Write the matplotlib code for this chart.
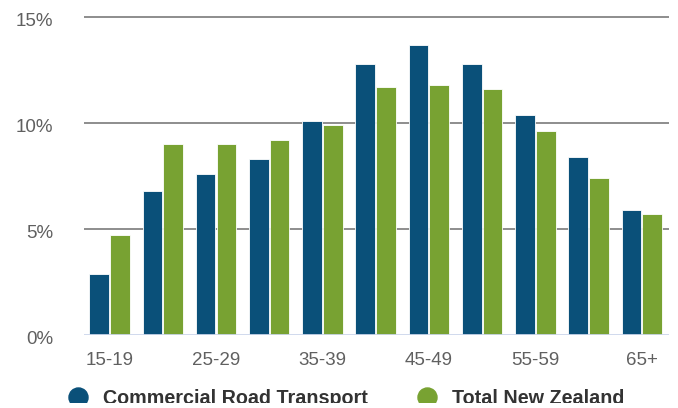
import matplotlib
matplotlib.use("Agg")
import matplotlib.pyplot as plt
from matplotlib.lines import Line2D
from matplotlib.patches import Rectangle
from matplotlib.transforms import ScaledTranslation
import numpy as np

categories = ["15-19", "20-24", "25-29", "30-34", "35-39", "40-44",
              "45-49", "50-54", "55-59", "60-64", "65+"]
commercial = [2.9, 6.8, 7.6, 8.3, 10.1, 12.8, 13.7, 12.8, 10.4, 8.4, 5.9]
total_nz = [4.7, 9.0, 9.0, 9.2, 9.9, 11.7, 11.8, 11.6, 9.6, 7.4, 5.7]
yticks = [0, 5, 10, 15]
ytick_labels = ["0%", "5%", "10%", "15%"]
series_names = ["Commercial Road Transport", "Total New Zealand"]

BLUE = "#0a5079"
GREEN = "#78a232"

plt.rcParams['font.family'] = ['Liberation Sans', 'DejaVu Sans']

W, H = 678, 408
fig = plt.figure(figsize=(W / 100, H / 100), dpi=100)
left, right = 84, 669
y0 = 335
ppu = 21.2
ymax = 15.5
top = y0 - ymax * ppu
ax = fig.add_axes([left / W, (H - y0) / H, (right - left) / W, (y0 - top) / H])

x = np.arange(len(categories))
bw = 0.37
ax.bar(x - bw / 2 - 0.01, commercial, width=bw, color=BLUE, edgecolor="white",
       linewidth=0.6, zorder=3)
ax.bar(x + bw / 2 + 0.01, total_nz, width=bw, color=GREEN, edgecolor="white",
       linewidth=0.6, zorder=3)

ax.set_xlim(-0.48, 10.51)
ax.set_ylim(0, ymax)
ax.set_yticks(yticks)
ax.set_yticklabels(ytick_labels)
ax.set_xticks(x[::2])
ax.set_xticklabels(categories[::2])
ax.tick_params(axis='both', length=0, labelsize=13.5, labelcolor="#606060")
ax.tick_params(axis='x', pad=12)
ax.tick_params(axis='y', pad=22)
for lbl in ax.get_yticklabels():
    lbl.set_verticalalignment('center')
    lbl.set_transform(lbl.get_transform() +
                      ScaledTranslation(0, -4.5 / 100, fig.dpi_scale_trans))

for v in yticks[1:]:
    ax.axhline(v, color="#858585", linewidth=1.3, zorder=1)
ax.axhline(0, color="#ccd6eb", linewidth=2.0, zorder=4)

for s in ax.spines.values():
    s.set_visible(False)

handles = [Line2D([0], [0], marker='o', linestyle='none', markersize=13.7,
                  markerfacecolor=c, markeredgecolor=c) for c in (BLUE, GREEN)]
leg = fig.legend(handles, series_names, loc='center left',
                 bbox_to_anchor=(68.5 / W, (H - 398) / H), ncol=2, frameon=False,
                 prop={'weight': 'bold', 'size': 14.25}, handletextpad=0.74,
                 columnspacing=2.5, handlelength=1.0, borderaxespad=0, borderpad=0)
for t in leg.get_texts():
    t.set_color("#333333")

# the reference image is clipped at the bottom edge
fig.patches.append(Rectangle((0, 0), 1, 5 / H, transform=fig.transFigure,
                             facecolor="white", edgecolor="none", zorder=10))

fig.savefig("out.png", dpi=100)
